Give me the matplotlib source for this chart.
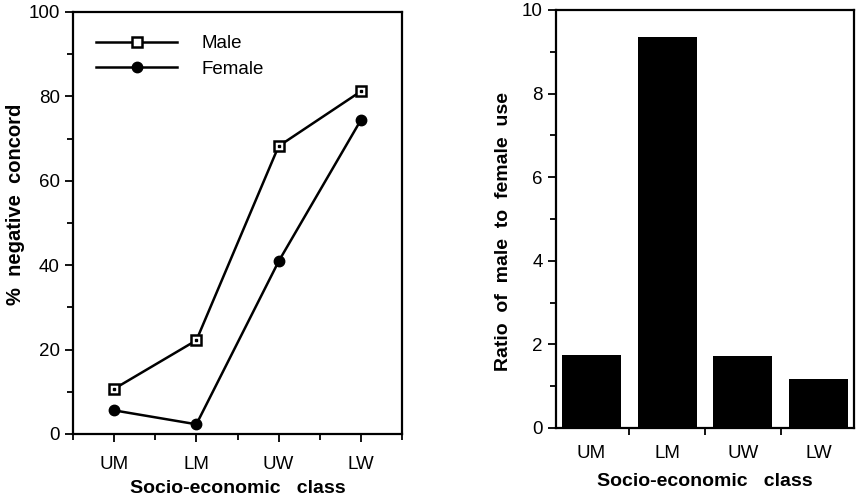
import matplotlib
matplotlib.use("Agg")
import matplotlib.pyplot as plt
import numpy as np
from matplotlib.ticker import MultipleLocator, FixedLocator

plt.rcParams['font.family'] = ['Liberation Sans', 'DejaVu Sans']

classes = ["UM", "LM", "UW", "LW"]
male = [10.7, 22.2, 68.2, 81.2]
female = [5.6, 2.3, 40.9, 74.4]
ratio = [1.74, 9.36, 1.72, 1.17]

fig = plt.figure(figsize=(8.57, 5.01), dpi=100)
ax1 = fig.add_axes([73/857, 1-434/501, 329/857, 422/501])
ax2 = fig.add_axes([556/857, 1-428/501, 298/857, 418/501])

x = np.arange(len(classes))
TICK_FS = 13.5
LAB_FS = 14

# Left: line chart
lm, = ax1.plot(x, male, color='black', lw=1.8, marker='s', ms=7.5,
               mfc='white', mec='black', mew=1.8, label='Male')
ax1.plot(x, male, ls='none', marker='s', ms=1.6, color='black')
lf, = ax1.plot(x, female, color='black', lw=1.8, marker='o', ms=7.5,
               mfc='black', mec='black', label='Female')
ax1.set_xlim(-0.5, 3.5)
ax1.set_ylim(0, 100)
ax1.set_xticks(x)
ax1.set_xticklabels(classes)
ax1.xaxis.set_minor_locator(FixedLocator([-0.5, 0.5, 1.5, 2.5, 3.5]))
ax1.yaxis.set_major_locator(MultipleLocator(20))
ax1.yaxis.set_minor_locator(MultipleLocator(10))
ax1.set_xlabel("Socio-economic   class", fontsize=LAB_FS, fontweight='bold', labelpad=5)
ax1.set_ylabel("%  negative  concord", fontsize=14.5, fontweight='bold')
ax1.yaxis.set_label_coords(-0.146, 0.545)
leg = ax1.legend(frameon=False, loc='upper left', bbox_to_anchor=(0.02, 0.985),
                 handlelength=4.3, handletextpad=1.3, fontsize=TICK_FS, labelspacing=0.45)

# Right: bar chart
ax2.bar(x, ratio, width=0.78, color='black')
ax2.set_xlim(-0.47, 3.47)
ax2.set_ylim(0, 10)
ax2.set_xticks(x)
ax2.set_xticklabels(classes)
ax2.tick_params(axis='x', which='major', length=0, pad=12)
ax2.xaxis.set_minor_locator(FixedLocator([0.5, 1.5, 2.5]))
ax2.yaxis.set_major_locator(MultipleLocator(2))
ax2.yaxis.set_minor_locator(MultipleLocator(1))
ax2.set_xlabel("Socio-economic   class", fontsize=LAB_FS, fontweight='bold', labelpad=8)
ax2.set_ylabel("Ratio  of  male  to  female  use", fontsize=LAB_FS, fontweight='bold')
ax2.yaxis.set_label_coords(-0.148, 0.471)

for ax in (ax1, ax2):
    for s in ax.spines.values():
        s.set_linewidth(1.6)
    ax.tick_params(axis='both', which='both', direction='out', width=1.3, labelsize=TICK_FS)
    ax.tick_params(axis='y', which='major', length=6)
    ax.tick_params(axis='y', which='minor', length=4)
ax1.tick_params(axis='x', which='major', length=6, pad=10)
ax1.tick_params(axis='x', which='minor', length=4)
ax2.tick_params(axis='x', which='minor', length=5)

fig.savefig("out.png", dpi=100)
